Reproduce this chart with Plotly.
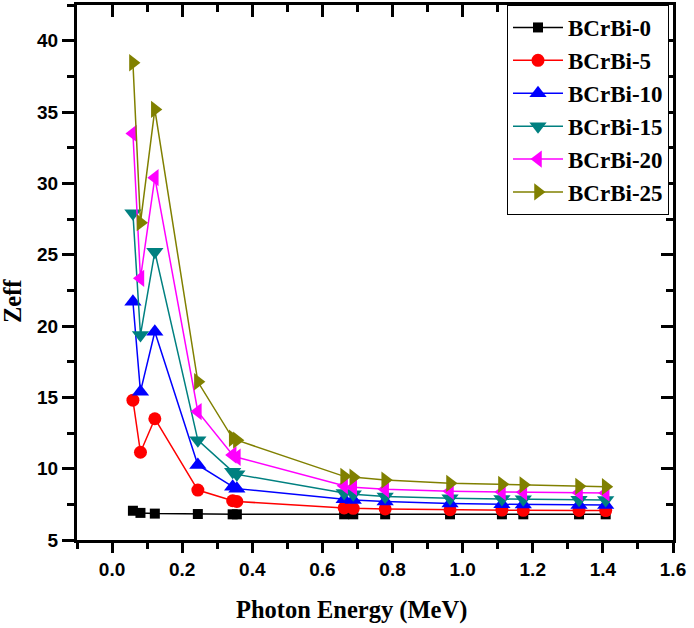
import plotly.graph_objects as go

energy = [0.0595, 0.081, 0.122, 0.2447, 0.344, 0.356, 0.662, 0.688, 0.779, 0.964, 1.112, 1.173, 1.332, 1.408]

bcrbi_0 = [7.05, 6.9, 6.85, 6.82, 6.8, 6.8, 6.8, 6.8, 6.8, 6.8, 6.8, 6.8, 6.8, 6.8]
bcrbi_5 = [14.8, 11.15, 13.5, 8.5, 7.75, 7.7, 7.25, 7.22, 7.18, 7.12, 7.1, 7.08, 7.07, 7.06]
bcrbi_10 = [21.7, 15.4, 19.6, 10.26, 8.74, 8.6, 7.85, 7.8, 7.7, 7.55, 7.5, 7.48, 7.46, 7.45]
bcrbi_15 = [27.9, 19.37, 25.2, 12.0, 9.79, 9.6, 8.3, 8.2, 8.05, 7.92, 7.87, 7.85, 7.82, 7.8]
bcrbi_20 = [33.5, 23.34, 30.4, 14.0, 10.96, 10.8, 8.8, 8.7, 8.55, 8.42, 8.37, 8.35, 8.32, 8.3]
bcrbi_25 = [38.45, 27.24, 35.18, 16.09, 12.13, 12.0, 9.46, 9.4, 9.2, 8.97, 8.9, 8.87, 8.76, 8.74]

names = ["BCrBi-0", "BCrBi-5", "BCrBi-10", "BCrBi-15", "BCrBi-20", "BCrBi-25"]
series = [bcrbi_0, bcrbi_5, bcrbi_10, bcrbi_15, bcrbi_20, bcrbi_25]
colors = ["#000000", "#FF0000", "#0000FF", "#008080", "#FF00FF", "#808000"]
symbols = ["square", "circle", "triangle-up", "triangle-down", "triangle-left", "triangle-right"]
sizes = [10, 13, 15, 15, 15, 15]

x_ticks = [0.0, 0.2, 0.4, 0.6, 0.8, 1.0, 1.2, 1.4, 1.6]
y_ticks = [5, 10, 15, 20, 25, 30, 35, 40]

x_title = "Photon Energy (MeV)"
y_title = "Zeff"

fig = go.Figure()
for n, s, c, sym, sz in zip(names, series, colors, symbols, sizes):
    fig.add_trace(go.Scatter(
        x=energy, y=s, name=n, mode="lines+markers",
        line=dict(color=c, width=1.5),
        marker=dict(symbol=sym, color=c, size=sz, line=dict(width=0)),
    ))

tickfont = dict(family="Liberation Sans, Arial", size=19, color="black", weight="bold")
serif = "Liberation Serif, Times New Roman"
titlefont = dict(family=serif, size=24.5, color="black", weight="bold")

L, R, T, B = 77, 21, 5, 88
W, H = 694, 628
pw, ph = W - L - R, H - T - B

fig.update_layout(
    width=W, height=H,
    margin=dict(l=L, r=R, t=T, b=B, autoexpand=False),
    plot_bgcolor="white", paper_bgcolor="white",
    showlegend=True,
    legend=dict(
        x=(669 - L) / pw, y=1.0, xanchor="right", yanchor="top",
        bordercolor="black", borderwidth=1, bgcolor="white",
        font=dict(family=serif, size=23, color="black", weight="bold"),
        tracegroupgap=0, itemwidth=50,
    ),
    xaxis=dict(
        range=[-0.1, 1.6], tickvals=x_ticks, ticktext=[f"{v:.1f}" for v in x_ticks],
        ticks="outside", ticklen=10, tickwidth=3, tickcolor="black",
        minor=dict(ticks="outside", ticklen=6, tickwidth=3, tickcolor="black", dtick=0.1, tick0=0),
        showline=True, linewidth=3, linecolor="black", showgrid=False, zeroline=False,
        tickfont=tickfont, automargin=False, ticklabeloverflow="allow",
    ),
    yaxis=dict(
        range=[5, 42.5], tickvals=y_ticks,
        ticks="outside", ticklen=12, tickwidth=3, tickcolor="black",
        minor=dict(ticks="outside", ticklen=7, tickwidth=3, tickcolor="black", dtick=2.5, tick0=5),
        showline=True, linewidth=3, linecolor="black", showgrid=False, zeroline=False,
        tickfont=tickfont, automargin=False, ticklabeloverflow="allow",
    ),
    xaxis2=dict(
        overlaying="x", side="top", matches="x", range=[-0.1, 1.6], tickvals=x_ticks,
        showticklabels=False, ticks="inside", ticklen=12, tickwidth=3, tickcolor="black",
        minor=dict(ticks="inside", ticklen=7, tickwidth=3, tickcolor="black", dtick=0.1, tick0=0),
        showline=True, linewidth=3, linecolor="black", showgrid=False, zeroline=False, automargin=False,
    ),
    yaxis2=dict(
        overlaying="y", side="right", range=[5, 42.5], tickvals=y_ticks,
        showticklabels=False, ticks="inside", ticklen=12, tickwidth=3, tickcolor="black",
        minor=dict(ticks="inside", ticklen=7, tickwidth=3, tickcolor="black", dtick=2.5, tick0=5),
        showline=True, linewidth=3, linecolor="black", showgrid=False, zeroline=False, automargin=False,
    ),
    annotations=[
        dict(text=x_title, xref="paper", yref="paper", x=(351 - L) / pw, y=-(610 - T - ph) / ph,
             xanchor="center", yanchor="middle", showarrow=False, font=titlefont),
        dict(text=y_title, xref="paper", yref="paper", x=(12 - L) / pw, y=(H - B - 301) / ph,
             xanchor="center", yanchor="middle", showarrow=False, font=titlefont, textangle=-90),
    ],
)
# invisible trace to activate the mirror axes
fig.add_trace(go.Scatter(x=[None], y=[None], xaxis="x2", yaxis="y2", showlegend=False, hoverinfo="skip"))

fig.write_html("out.html", config={"displayModeBar": False},
               post_script="document.body.style.margin='0';")
